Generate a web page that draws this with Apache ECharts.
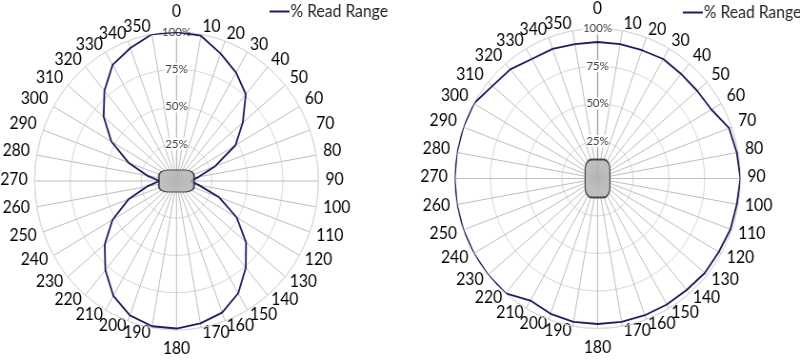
<!DOCTYPE html>
<html>
<head>
<meta charset="utf-8">
<script src="https://cdn.jsdelivr.net/npm/echarts@6/dist/echarts.min.js"></script>
<style>
html,body{margin:0;padding:0;background:#fff;overflow:hidden;width:800px;height:361px;}
#chart{width:840px;height:361px;transform:scaleX(0.95238);transform-origin:0 0;}
</style>
</head>
<body>
<div id="chart"></div>
<script>
const seriesName = '% Read Range';
const angles = [0,10,20,30,40,50,60,70,80,90,100,110,120,130,140,150,160,170,180,190,200,210,220,230,240,250,260,270,280,290,300,310,320,330,340,350];
const angleLabels = ['0','10','20','30','40','50','60','70','80','90','100','110','120','130','140','150','160','170','180','190','200','210','220','230','240','250','260','270','280','290','300','310','320','330','340','350'];
const radiusTicks = [25, 50, 75, 100];
const radiusLabels = ['25%', '50%', '75%', '100%'];
const leftValues = [100,99,91,84,76,61,48,29,16,10,16,32,49,64,76,87,94,97,99,99,96,89,78,66,52,36,21,12,21,36,53,67,79,90,95,100];
const rightValues = [91,91,91,92,91,91,92,98,99,100,99,99,98,98,97,97,97,97,97,97,96,94,100,100,100,100,100,100,100,100,100,96,95,92,92,91];

const FONT = 'Lato, "Open Sans", sans-serif';
const LABEL_SIZE = 16.5;
const lineColor = '#1b1f5c';
const SX = 0.95238;           // horizontal squeeze of the whole picture
const LABEL_MARGIN = -30;     // anchor inside the ring, then pushed out with padding
const TOKEN_H = 18;

const measureCtx = document.createElement('canvas').getContext('2d');
measureCtx.font = LABEL_SIZE + 'px ' + FONT;
function textW(t) { return measureCtx.measureText(t).width; }

// Excel-like placement of the angle labels around a ring of radius R
function labelRich(R) {
  const rich = {};
  angles.forEach((deg, i) => {
    const th = deg * Math.PI / 180;
    let s = Math.sin(th), c = Math.cos(th);
    if (Math.abs(s) < 1e-9) s = 0;
    if (Math.abs(c) < 1e-9) c = 0;
    const w = textW(angleLabels[i]);
    const qx = R * s, qy = -R * c;
    let xl, cy;
    if (s === 0) {
      xl = qx - w / 2;
      cy = qy - (c > 0 ? 1 : -1) * 19.5;
    } else {
      const gx = (1 + 6 * s * s) / SX;
      xl = s > 0 ? qx + gx : qx - gx - w;
      const k = Math.max(-1, Math.min(1, 2.5 * c));
      cy = qy - 6 * k - 1;
    }
    const T = cy - TOKEN_H / 2 - 0.5;
    const rr = R + LABEL_MARGIN;
    const px = rr * s, py = -rr * c;
    const ae = Math.abs(px) / R < 0.3 ? 'center' : (px > 0 ? 'left' : 'right');
    const ve = Math.abs(py) / R < 0.3 ? 'middle' : (py > 0 ? 'top' : 'bottom');
    let pl = 0, pr = 0, pt = 0, pb = 0;
    if (ae === 'left') pl = xl - px;
    else if (ae === 'right') pr = px - w - xl;
    else { const d = 2 * (xl - px + w / 2); if (d >= 0) pl = d; else pr = -d; }
    if (ve === 'top') pt = T - py;
    else if (ve === 'bottom') pb = py - T - TOKEN_H;
    else { const d = 2 * (T - py + TOKEN_H / 2); if (d >= 0) pt = d; else pb = -d; }
    rich['t' + i] = {
      fontSize: LABEL_SIZE, fontFamily: FONT, color: '#000', height: TOKEN_H,
      padding: [Math.max(0, pt), Math.max(0, pr), Math.max(0, pb), Math.max(0, pl)]
    };
  });
  return rich;
}

function closed(vals) {
  const d = angles.map((a, i) => [vals[i], a]);
  d.push([vals[0], 360]);
  return d;
}

function angleAxisCfg(idx, R) {
  return {
    polarIndex: idx, type: 'value', min: 0, max: 360, interval: 10,
    startAngle: 90, clockwise: true,
    axisLine: { show: true, lineStyle: { color: '#d9d9d9', width: 1 } },
    axisTick: { show: false },
    axisLabel: {
      margin: LABEL_MARGIN, color: '#000', fontSize: LABEL_SIZE, fontFamily: FONT,
      rich: labelRich(R),
      formatter: v => { const i = angles.indexOf(v); return i >= 0 ? '{t' + i + '|' + angleLabels[i] + '}' : ''; }
    },
    splitLine: { show: true, lineStyle: { color: '#bfbfbf', width: 1 } }
  };
}
function radiusAxisCfg(idx, axisColor) {
  return {
    polarIndex: idx, type: 'value', min: 0, max: 100, interval: 25,
    axisLine: { show: true, lineStyle: { color: axisColor, width: 1.2 } },
    axisTick: { show: false },
    axisLabel: {
      margin: 0, align: 'center', verticalAlign: 'middle',
      color: '#404040', fontSize: 12, fontFamily: FONT,
      backgroundColor: '#fff',
      formatter: v => { const i = radiusTicks.indexOf(v); return i >= 0 ? radiusLabels[i] : ''; }
    },
    splitLine: { show: true, lineStyle: { color: '#d9d9d9', width: 1 } }
  };
}

const R1 = 149, R2 = 150;
const chart = echarts.init(document.getElementById('chart'), null, { renderer: 'canvas' });
chart.setOption({
  backgroundColor: '#fff',
  animation: false,
  polar: [
    { center: [185.3, 181], radius: [0, R1] },
    { center: [627.4, 178.5], radius: [0, R2] }
  ],
  angleAxis: [angleAxisCfg(0, R1), angleAxisCfg(1, R2)],
  radiusAxis: [radiusAxisCfg(0, '#bfbfbf'), radiusAxisCfg(1, '#a0a0a0')],
  legend: [
    { data: [seriesName], left: 278, top: -2, icon: 'rect', itemWidth: 21, itemHeight: 2, itemGap: 4,
      textStyle: { fontSize: 16.5, color: '#262626', fontFamily: FONT, padding: [0,0,0,-4] } },
    { data: [seriesName], left: 712, top: -1, icon: 'rect', itemWidth: 21, itemHeight: 2, itemGap: 4,
      textStyle: { fontSize: 16.5, color: '#262626', fontFamily: FONT, padding: [0,0,0,-4] } }
  ],
  series: [
    { name: seriesName, type: 'line', coordinateSystem: 'polar', polarIndex: 0,
      data: closed(leftValues), symbol: 'none', smooth: false,
      lineStyle: { color: lineColor, width: 1.8 }, itemStyle: { color: lineColor }, z: 3 },
    { name: seriesName, type: 'line', coordinateSystem: 'polar', polarIndex: 1,
      data: closed(rightValues), symbol: 'none', smooth: false,
      lineStyle: { color: lineColor, width: 1.8 }, itemStyle: { color: lineColor }, z: 3 },
    { name: 'tag', type: 'scatter', coordinateSystem: 'polar', polarIndex: 0, silent: true,
      data: [[0, 0]], symbol: 'roundRect', symbolSize: [37, 22],
      itemStyle: { color: '#b4b4b4', borderColor: '#23233a', borderWidth: 1.5 }, z: 5 },
    { name: 'tag', type: 'scatter', coordinateSystem: 'polar', polarIndex: 1, silent: true,
      data: [[0, 0]], symbol: 'roundRect', symbolSize: [26, 38],
      itemStyle: { color: '#b4b4b4', borderColor: '#23233a', borderWidth: 1.5 }, z: 5 }
  ]
});
</script>
</body>
</html>
